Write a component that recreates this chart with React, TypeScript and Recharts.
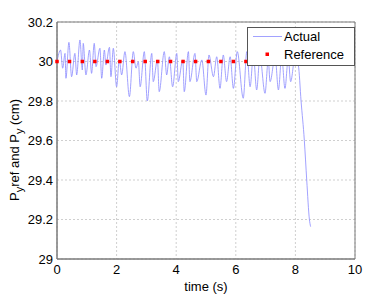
import {
  ComposedChart,
  Line,
  Scatter,
  XAxis,
  YAxis,
  CartesianGrid,
  Legend,
  ReferenceArea,
} from "recharts";

// measured trajectory (time in s, position in cm)
const actualTime = [
  0, 0.12, 0.19, 0.27, 0.3, 0.4, 0.49, 0.6, 0.66, 0.77, 0.85, 0.88, 0.97, 1.09,
  1.16, 1.25, 1.31, 1.44, 1.5, 1.59, 1.64, 1.76, 1.81, 1.89, 2.0, 2.09, 2.17,
  2.28, 2.43, 2.56, 2.65, 2.73, 2.79, 2.93, 3.03, 3.18, 3.23, 3.37, 3.43, 3.6,
  3.68, 3.77, 3.88, 4.02, 4.07, 4.22, 4.27, 4.41, 4.46, 4.63, 4.69, 4.86, 5.0,
  5.1, 5.25, 5.36, 5.47, 5.58, 5.69, 5.81, 5.92, 6.05, 6.25, 6.37, 6.48, 6.59,
  6.7, 6.81, 6.98, 7.09, 7.15, 7.32, 7.43, 7.54, 7.65, 7.76, 7.84, 7.99, 8.1,
  8.19, 8.3, 8.38, 8.47, 8.51,
];

const actualPos = [
  30.0, 30.058, 29.966, 30.041, 29.915, 30.097, 29.923, 30.041, 29.932, 30.109,
  29.957, 30.092, 29.932, 30.058, 29.94, 30.092, 29.974, 30.067, 29.915, 30.058,
  29.982, 30.072, 29.923, 30.067, 29.872, 30.008, 29.932, 30.05, 29.822, 30.05,
  29.966, 29.999, 29.872, 30.05, 29.8, 30.041, 29.898, 30.008, 29.847, 30.05,
  29.932, 30.024, 29.872, 30.041, 29.898, 30.008, 29.847, 30.05, 29.898, 30.041,
  29.898, 30.008, 29.83, 30.033, 29.923, 30.024, 29.864, 30.033, 29.898, 30.024,
  29.864, 30.05, 29.814, 30.05, 29.872, 30.033, 29.856, 30.024, 29.839, 30.008,
  29.898, 30.024, 29.856, 30.024, 29.864, 30.016, 29.898, 30.024, 29.98, 29.8,
  29.6, 29.4, 29.2, 29.164,
];

// reference samples
const refTime = [
  0, 0.42, 0.85, 1.27, 1.69, 2.11, 2.54, 2.96, 3.38, 3.81, 4.23, 4.65, 5.08,
  5.5, 5.92, 6.34, 6.77, 7.19, 7.61, 8.03, 8.46,
];
const refPos = refTime.map(() => 30);

const xTicks = [0, 2, 4, 6, 8, 10];
const yTicks = [29, 29.2, 29.4, 29.6, 29.8, 30, 30.2];

const actualData = actualTime.map((t, i) => ({ t, p: actualPos[i] }));
const refData = refTime.map((t, i) => ({ t, p: refPos[i] }));

const FONT = "'Liberation Sans', Arial, sans-serif";
const LINE_COLOR = "#8a8aff";

const RefDot = (props: any) => (
  <rect
    x={props.cx - 1.75}
    y={props.cy - 1.75}
    width={3.5}
    height={3.5}
    fill="#ff0000"
  />
);

const LegendBox = () => (
  <svg width={108} height={39} style={{ display: "block" }}>
    <rect
      x={0.5}
      y={0.5}
      width={107}
      height={38}
      fill="#ffffff"
      stroke="#555"
    />
    <line x1={6} y1={9.5} x2={35} y2={9.5} stroke={LINE_COLOR} strokeWidth={0.8} />
    <text x={37} y={14} fontSize={13} fontFamily={FONT} fill="#000">
      Actual
    </text>
    <rect x={18.5} y={25.5} width={3.5} height={3.5} fill="#ff0000" />
    <text x={37} y={32} fontSize={13} fontFamily={FONT} fill="#000">
      Reference
    </text>
  </svg>
);

const YLabel = () => (
  <text
    transform="translate(19,150) rotate(-90)"
    textAnchor="middle"
    fontSize={13}
    fontFamily={FONT}
    fill="#000"
  >
    P
    <tspan fontSize={11} dy={4}>y</tspan>
    <tspan dy={-4}>ref and P</tspan>
    <tspan fontSize={11} dy={4}>y</tspan>
    <tspan dy={-4}> (cm)</tspan>
  </text>
);

export default function App() {
  return (
    <div style={{ position: "absolute", left: 0, top: 0, background: "#fff" }}>
      <ComposedChart
        width={392}
        height={294}
        margin={{ top: 22, right: 37, bottom: 0, left: 0 }}
      >
        <CartesianGrid stroke="#cfcfcf" strokeDasharray="2 2" />
        <XAxis
          type="number"
          dataKey="t"
          domain={[0, 10]}
          ticks={xTicks}
          height={35}
          tickSize={0}
          tickMargin={6}
          tick={{ fontSize: 13, fontFamily: FONT, fill: "#000" }}
          axisLine={{ stroke: "#7a7a7a" }}
          label={{
            value: "time (s)",
            position: "insideBottom",
            offset: 3,
            fontSize: 13,
            fontFamily: FONT,
            fill: "#000",
          }}
        />
        <YAxis
          type="number"
          dataKey="p"
          domain={[29, 30.2]}
          ticks={yTicks}
          allowDataOverflow
          width={57}
          tickSize={0}
          tickMargin={4}
          tickFormatter={(v: number) => String(Number(v.toFixed(1)))}
          tick={{ fontSize: 13, fontFamily: FONT, fill: "#000" }}
          axisLine={{ stroke: "#7a7a7a" }}
          label={<YLabel />}
        />
        <ReferenceArea
          x1={0}
          x2={10}
          y1={29}
          y2={30.2}
          fill="none"
          stroke="#7a7a7a"
          ifOverflow="visible"
        />
        <Line
          data={actualData}
          dataKey="p"
          type="monotoneX"
          stroke={LINE_COLOR}
          strokeWidth={0.8}
          dot={false}
          isAnimationActive={false}
        />
        <Scatter
          data={refData}
          dataKey="p"
          shape={RefDot}
          isAnimationActive={false}
        />
        <Legend
          layout="horizontal"
          verticalAlign="middle"
          align="center"
          content={() => <LegendBox />}
          wrapperStyle={{ left: 247, top: 27, width: 108, height: 39 }}
        />
      </ComposedChart>
    </div>
  );
}
